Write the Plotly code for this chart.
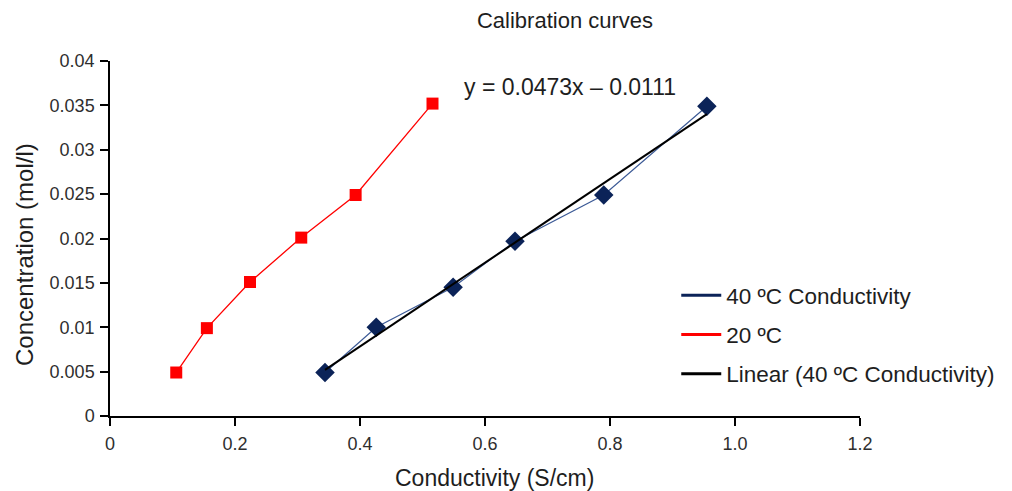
import numpy as np
import plotly.graph_objects as go

# Data
cond_40 = [0.344, 0.426, 0.549, 0.648, 0.790, 0.955]
conc_40 = [0.0049, 0.0100, 0.0145, 0.0197, 0.0249, 0.0349]
cond_20 = [0.106, 0.155, 0.224, 0.306, 0.393, 0.516]
conc_20 = [0.0049, 0.0099, 0.0151, 0.0201, 0.0249, 0.0352]

x_tickvals = [0, 0.2, 0.4, 0.6, 0.8, 1.0, 1.2]
x_ticktext = ["0", "0.2", "0.4", "0.6", "0.8", "1.0", "1.2"]
y_tickvals = [0, 0.005, 0.01, 0.015, 0.02, 0.025, 0.03, 0.035, 0.04]
y_ticktext = ["0", "0.005", "0.01", "0.015", "0.02", "0.025", "0.03", "0.035", "0.04"]

title_text = "Calibration curves"
x_title = "Conductivity (S/cm)"
y_title = "Concentration (mol/l)"
equation_text = "y = 0.0473x – 0.0111"

NAVY = "#0b2358"
LINE_BLUE = "#3c5a96"
RED = "#ff0000"
FONT = "Liberation Sans, Arial, sans-serif"
TXT = "#1e1e1e"

# Linear trendline computed from the 40 ºC data
slope, intercept = np.polyfit(cond_40, conc_40, 1)
fit_x = [min(cond_40), max(cond_40)]
fit_y = [slope * v + intercept for v in fit_x]

fig = go.Figure()

fig.add_trace(go.Scatter(
    x=cond_20, y=conc_20, mode="lines+markers", showlegend=False,
    line=dict(color=RED, width=1.3),
    marker=dict(symbol="square", size=12, color=RED),
))
fig.add_trace(go.Scatter(
    x=cond_40, y=conc_40, mode="lines+markers", showlegend=False,
    line=dict(color=LINE_BLUE, width=1.2),
    marker=dict(symbol="diamond", size=15, color=NAVY),
))
fig.add_trace(go.Scatter(
    x=fit_x, y=fit_y, mode="lines", showlegend=False,
    line=dict(color="black", width=2),
))

# Legend-only entries (lines only, as in the reference)
fig.add_trace(go.Scatter(x=[None], y=[None], mode="lines", name="40 ºC Conductivity",
                         legendgroup="a", line=dict(color=NAVY, width=3)))
fig.add_trace(go.Scatter(x=[None], y=[None], mode="lines", name="20 ºC",
                         legendgroup="b", line=dict(color=RED, width=3)))
fig.add_trace(go.Scatter(x=[None], y=[None], mode="lines", name="Linear (40 ºC Conductivity)",
                         legendgroup="c", line=dict(color="black", width=3)))

fig.add_annotation(x=0.736, y=0.0371, xref="x", yref="y", text=equation_text,
                   showarrow=False, font=dict(size=23, color=TXT, family=FONT))
fig.add_annotation(x=(494 - 110) / 750, y=(416 - 478) / 355, xref="paper", yref="paper",
                   text=x_title, showarrow=False, xanchor="center", yanchor="middle",
                   font=dict(size=23, color=TXT, family=FONT))
fig.add_annotation(x=(25 - 110) / 750, y=(416 - 255) / 355, xref="paper", yref="paper",
                   text=y_title, showarrow=False, xanchor="center", yanchor="middle",
                   textangle=-90, font=dict(size=24, color=TXT, family=FONT))

fig.update_layout(
    width=1012, height=491,
    margin=dict(l=110, r=152, t=61, b=75),
    paper_bgcolor="white", plot_bgcolor="white",
    font=dict(family=FONT, color="#333333"),
    title=dict(text=title_text, x=565 / 1012, xanchor="center", y=1 - 20 / 491, yanchor="middle",
               font=dict(size=22, color=TXT, family=FONT)),
    legend=dict(x=0.755, y=0.400, xanchor="left", yanchor="top",
                font=dict(size=22.5, color=TXT, family=FONT),
                bgcolor="rgba(0,0,0,0)", itemwidth=40, tracegroupgap=7,
                traceorder="grouped"),
    showlegend=True,
)

fig.update_xaxes(
    range=[0, 1.2], tickvals=x_tickvals, ticktext=x_ticktext,
    showline=True, linecolor="black", linewidth=1.5, mirror=False,
    ticks="outside", ticklen=8, tickcolor="black", tickwidth=1.5,
    showgrid=False, zeroline=False, ticklabelstandoff=3,
    tickfont=dict(size=18, color="#2e2e2e", family=FONT),
)
fig.update_yaxes(
    range=[0, 0.04], tickvals=y_tickvals, ticktext=y_ticktext,
    showline=True, linecolor="black", linewidth=1.5, mirror=False,
    ticks="outside", ticklen=8, tickcolor="black", tickwidth=1.5,
    showgrid=False, zeroline=False, ticklabelstandoff=2,
    tickfont=dict(size=18, color="#2e2e2e", family=FONT),
)

fig.write_html("out.html")
